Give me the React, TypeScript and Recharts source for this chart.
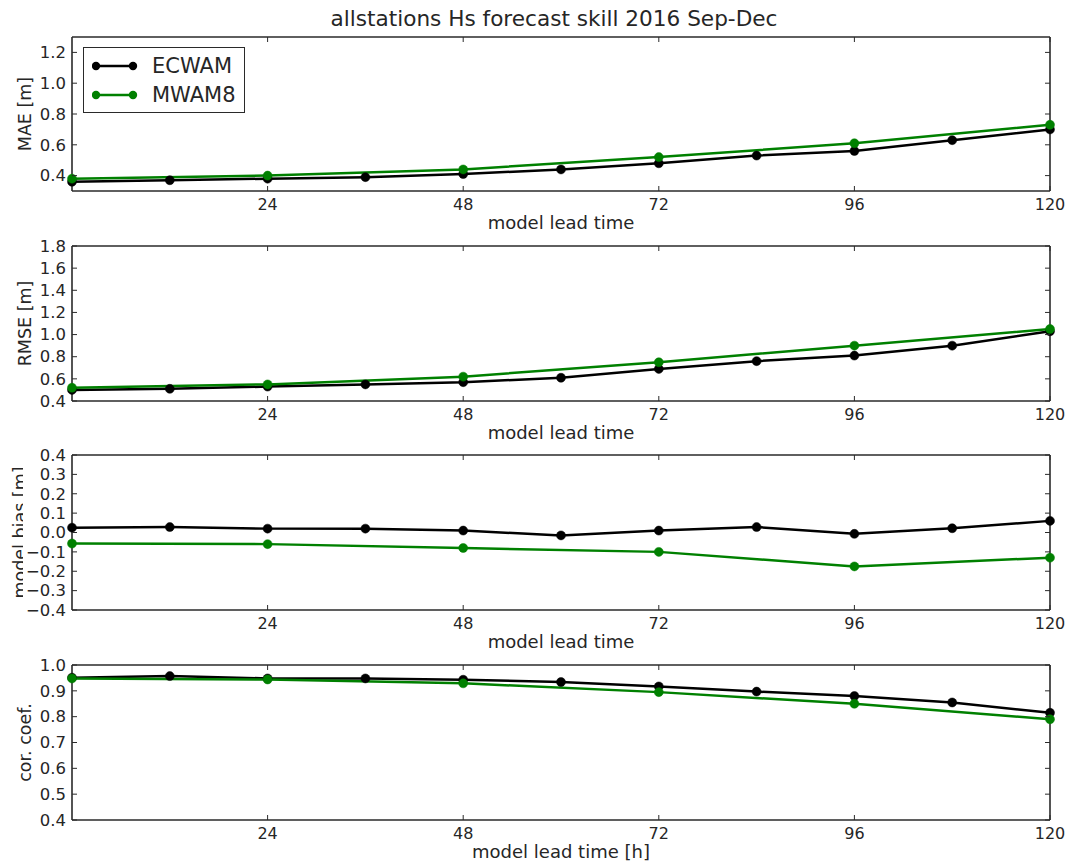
import React from "react";
import { LineChart, Line, XAxis, YAxis, Legend } from "recharts";

// lead time in hours
const leadTimes = [0, 12, 24, 36, 48, 60, 72, 84, 96, 108, 120];
const xTicks = [24, 48, 72, 96, 120];

// MWAM8 is only given every 24 h
const maeEcwam = [0.36, 0.37, 0.38, 0.39, 0.41, 0.44, 0.48, 0.53, 0.56, 0.63, 0.7];
const maeMwam8 = [0.38, null, 0.4, null, 0.44, null, 0.52, null, 0.61, null, 0.73];
const rmseEcwam = [0.5, 0.51, 0.53, 0.55, 0.57, 0.61, 0.69, 0.76, 0.81, 0.9, 1.03];
const rmseMwam8 = [0.52, null, 0.55, null, 0.62, null, 0.75, null, 0.9, null, 1.05];
const biasEcwam = [0.025, 0.028, 0.02, 0.02, 0.01, -0.015, 0.01, 0.028, -0.007, 0.022, 0.06];
const biasMwam8 = [-0.057, null, -0.06, null, -0.08, null, -0.1, null, -0.175, null, -0.13];
const corEcwam = [0.951, 0.957, 0.948, 0.948, 0.943, 0.934, 0.917, 0.897, 0.88, 0.855, 0.815];
const corMwam8 = [0.948, null, 0.944, null, 0.929, null, 0.895, null, 0.85, null, 0.79];

const maeTicks = [0.4, 0.6, 0.8, 1.0, 1.2];
const rmseTicks = [0.4, 0.6, 0.8, 1.0, 1.2, 1.4, 1.6, 1.8];
const biasTicks = [-0.4, -0.3, -0.2, -0.1, 0, 0.1, 0.2, 0.3, 0.4];
const corTicks = [0.4, 0.5, 0.6, 0.7, 0.8, 0.9, 1.0];

const FONT = "'DejaVu Sans', 'Bitstream Vera Sans', sans-serif";
const TEXT = "#262626";
const FRAME = "#2a2a2a";
const ECWAM_COLOR = "#000000";
const MWAM8_COLOR = "#008000";
const W = 1071;

const fmt = (v: number) => v.toFixed(1).replace("-", "\u2212");

const BottomTick = (props: any) => {
  const { x, y, payload } = props;
  return (
    <g>
      <line x1={x} y1={y} x2={x} y2={y - 5} stroke={FRAME} />
      <text x={x} y={y + 13} dy="0.35em" textAnchor="middle" fontSize={16} fill={TEXT} fontFamily={FONT}>
        {payload.value}
      </text>
    </g>
  );
};

const TopTick = (props: any) => {
  const { x, y } = props;
  return <line x1={x} y1={y} x2={x} y2={y + 5} stroke={FRAME} />;
};

const LeftTick = (props: any) => {
  const { x, y, payload } = props;
  return (
    <g>
      <line x1={x} y1={y} x2={x + 5} y2={y} stroke={FRAME} />
      <text x={x - 6} y={y} dy="0.35em" textAnchor="end" fontSize={16.5} fill={TEXT} fontFamily={FONT}>
        {fmt(payload.value)}
      </text>
    </g>
  );
};

const RightTick = (props: any) => {
  const { x, y } = props;
  return <line x1={x} y1={y} x2={x - 5} y2={y} stroke={FRAME} />;
};

const LegendBox = (props: any) => {
  const { payload } = props;
  const entries = (payload || []).filter((e: any) => e.value === "ECWAM" || e.value === "MWAM8");
  return (
    <div
      style={{
        width: 162,
        height: 66,
        border: `1.5px solid ${FRAME}`,
        background: "#fff",
        boxSizing: "border-box",
        paddingTop: 3,
      }}
    >
      {entries.map((entry: any) => (
        <div key={entry.value} style={{ display: "flex", alignItems: "center", height: 29 }}>
          <svg width={60} height={14} style={{ marginLeft: 8 }}>
            <line x1={4} y1={7} x2={41} y2={7} stroke={entry.color} strokeWidth={2.5} />
            <circle cx={4} cy={7} r={4.2} fill={entry.color} />
            <circle cx={41} cy={7} r={4.2} fill={entry.color} />
          </svg>
          <span style={{ fontFamily: FONT, fontSize: 21, color: TEXT, marginLeft: 0 }}>{entry.value}</span>
        </div>
      ))}
    </div>
  );
};

interface PanelProps {
  top: number;
  plotHeight: number;
  yDomain: number[];
  yTicks: number[];
  yLabel: string;
  ecwam: (number | null)[];
  mwam8: (number | null)[];
  xLabel: string;
  showLegend?: boolean;
  labelX?: number;
  labelClip?: { y: number; height: number; width: number };
}

const Panel = ({
  top,
  plotHeight,
  yDomain,
  yTicks,
  yLabel,
  ecwam,
  mwam8,
  xLabel,
  showLegend = false,
  labelX = 25,
  labelClip,
}: PanelProps) => {
  const data = leadTimes.map((t, i) => ({ t, ecwam: ecwam[i], mwam8: mwam8[i] }));
  const height = plotHeight + 60;
  const clipId = `clip-${yLabel.replace(/[^a-z]/gi, "")}`;
  const cy = 10 + plotHeight / 2;

  const yLabelContent = () => (
    <g clipPath={labelClip ? `url(#${clipId})` : undefined}>
      {labelClip && (
        <defs>
          <clipPath id={clipId}>
            <rect x={0} y={labelClip.y} width={labelClip.width} height={labelClip.height} />
          </clipPath>
        </defs>
      )}
      <text
        x={labelX}
        y={cy}
        dy="0.35em"
        textAnchor="middle"
        transform={`rotate(-90 ${labelX} ${cy})`}
        fontSize={17.5}
        fill={TEXT}
        fontFamily={FONT}
      >
        {yLabel}
      </text>
    </g>
  );

  const xLabelContent = (props: any) => {
    const vb = props.viewBox || {};
    return (
      <text
        x={vb.x + vb.width / 2}
        y={vb.y + 32}
        dy="0.35em"
        textAnchor="middle"
        fontSize={18}
        fill={TEXT}
        fontFamily={FONT}
      >
        {xLabel}
      </text>
    );
  };

  return (
    <div style={{ position: "absolute", left: 0, top: top - 10 }}>
      <LineChart width={W} height={height} data={data} margin={{ top: 9, right: 20, bottom: 0, left: 0 }}>
        <XAxis
          dataKey="t"
          type="number"
          domain={[0, 120]}
          ticks={xTicks}
          interval={0}
          height={50}
          tickSize={0}
          tickMargin={0}
          tickLine={false}
          tick={<BottomTick />}
          axisLine={{ stroke: FRAME, strokeWidth: 1.6 }}
          label={{ value: xLabel, content: xLabelContent }}
        />
        <XAxis
          xAxisId="top"
          dataKey="t"
          type="number"
          orientation="top"
          domain={[0, 120]}
          ticks={xTicks}
          interval={0}
          height={1}
          tickSize={0}
          tickMargin={0}
          tickLine={false}
          tick={<TopTick />}
          axisLine={{ stroke: FRAME, strokeWidth: 1.6 }}
        />
        <YAxis
          type="number"
          domain={yDomain}
          ticks={yTicks}
          interval={0}
          width={72}
          tickSize={0}
          tickMargin={0}
          tickLine={false}
          tick={<LeftTick />}
          axisLine={{ stroke: FRAME, strokeWidth: 1.6 }}
          allowDataOverflow
          label={{ value: yLabel, content: yLabelContent }}
        />
        <YAxis
          yAxisId="right"
          orientation="right"
          type="number"
          domain={yDomain}
          ticks={yTicks}
          interval={0}
          width={1}
          tickSize={0}
          tickMargin={0}
          tickLine={false}
          tick={<RightTick />}
          axisLine={{ stroke: FRAME, strokeWidth: 1.6 }}
          allowDataOverflow
        />
        {showLegend && (
          <Legend
            layout="horizontal"
            align="center"
            verticalAlign="middle"
            wrapperStyle={{ left: 83, top: 20, width: 162, height: 66 }}
            content={<LegendBox />}
          />
        )}
        {/* invisible series so the top/right frame axes get drawn */}
        <Line
          xAxisId="top"
          yAxisId="right"
          dataKey="ecwam"
          name="frame"
          stroke="none"
          dot={false}
          activeDot={false}
          legendType="none"
          isAnimationActive={false}
        />
        <Line
          dataKey="ecwam"
          name="ECWAM"
          stroke={ECWAM_COLOR}
          strokeWidth={2.5}
          dot={{ r: 4.5, fill: ECWAM_COLOR, stroke: ECWAM_COLOR, strokeWidth: 0.5 }}
          activeDot={false}
          isAnimationActive={false}
        />
        <Line
          dataKey="mwam8"
          name="MWAM8"
          stroke={MWAM8_COLOR}
          strokeWidth={2.5}
          connectNulls
          dot={{ r: 4.5, fill: MWAM8_COLOR, stroke: MWAM8_COLOR, strokeWidth: 0.5 }}
          activeDot={false}
          isAnimationActive={false}
        />
      </LineChart>
    </div>
  );
};

const App = () => {
  return (
    <div style={{ position: "absolute", left: 0, top: 0, width: W, height: 861, background: "#fff" }}>
      <div
        style={{
          position: "absolute",
          left: 0,
          width: 1108,
          top: 6,
          textAlign: "center",
          fontFamily: FONT,
          fontSize: 21.6,
          color: TEXT,
          whiteSpace: "nowrap",
        }}
      >
        allstations Hs forecast skill 2016 Sep-Dec
      </div>
      <Panel
        top={37}
        plotHeight={154}
        yDomain={[0.3, 1.3]}
        yTicks={maeTicks}
        yLabel="MAE [m]"
        ecwam={maeEcwam}
        mwam8={maeMwam8}
        xLabel="model lead time"
        showLegend
      />
      <Panel
        top={246}
        plotHeight={155}
        yDomain={[0.4, 1.8]}
        yTicks={rmseTicks}
        yLabel="RMSE [m]"
        ecwam={rmseEcwam}
        mwam8={rmseMwam8}
        xLabel="model lead time"
      />
      <Panel
        top={455}
        plotHeight={155}
        yDomain={[-0.4, 0.4]}
        yTicks={biasTicks}
        yLabel="model bias [m]"
        ecwam={biasEcwam}
        mwam8={biasMwam8}
        xLabel="model lead time"
        labelX={20}
        labelClip={{ y: 20, height: 136, width: 23 }}
      />
      <Panel
        top={665}
        plotHeight={155}
        yDomain={[0.4, 1.0]}
        yTicks={corTicks}
        yLabel="cor. coef."
        ecwam={corEcwam}
        mwam8={corMwam8}
        xLabel="model lead time [h]"
      />
    </div>
  );
};

export default App;
